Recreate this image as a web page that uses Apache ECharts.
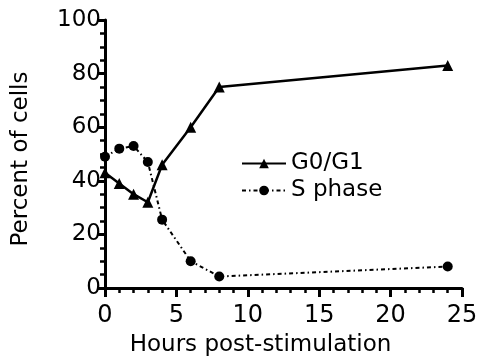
<!DOCTYPE html>
<html>
<head>
<meta charset="utf-8">
<script src="https://cdn.jsdelivr.net/npm/echarts@6/dist/echarts.min.js"></script>
<style>html,body{margin:0;padding:0;background:#fff;}#c{width:485px;height:358px;}</style>
</head>
<body>
<div id="c"></div>
<script>
var hours = [0, 1, 2, 3, 4, 6, 8, 24];
var g0g1 = [43, 39, 35, 32, 46, 60, 75, 83];
var sPhase = [49, 52, 53, 47, 25.5, 10, 4.3, 8];
var seriesNames = ['G0/G1', 'S phase'];
var xTitle = 'Hours post-stimulation';
var yTitle = 'Percent of cells';

function pairs(xs, ys) { return xs.map(function (x, i) { return [x, ys[i]]; }); }

var font = 'DejaVu Sans, Verdana, sans-serif';
var chart = echarts.init(document.getElementById('c'), null, {renderer: 'canvas'});
chart.setOption({
  animation: false,
  backgroundColor: '#fff',
  grid: {left: 105, right: 23, top: 20, bottom: 70, containLabel: false, outerBoundsMode: 'none'},
  legend: {
    orient: 'vertical', left: 241, top: 152, itemWidth: 44, itemHeight: 12, itemGap: 4, padding: 0,
    textStyle: {fontFamily: font, fontSize: 23, color: '#000'},
    data: seriesNames
  },
  xAxis: {
    type: 'value', min: 0, max: 25, interval: 5,
    name: xTitle, nameLocation: 'middle', nameGap: 46,
    nameTextStyle: {fontFamily: font, fontSize: 23, color: '#000', padding: [0, 46, 0, 0]},
    axisLine: {lineStyle: {color: '#000', width: 3}},
    axisTick: {length: 9, lineStyle: {color: '#000', width: 3}},
    minorTick: {show: true, splitNumber: 5, length: 5, lineStyle: {color: '#000', width: 2.5}},
    axisLabel: {margin: 16, fontFamily: font, fontSize: 24, color: '#000'},
    splitLine: {show: false}
  },
  yAxis: {
    type: 'value', min: 0, max: 100, interval: 20,
    name: yTitle, nameLocation: 'middle', nameGap: 72,
    nameTextStyle: {fontFamily: font, fontSize: 23, color: '#000', padding: [0, 10, 0, 0]},
    axisLine: {lineStyle: {color: '#000', width: 3}},
    axisTick: {length: 8, lineStyle: {color: '#000', width: 3}},
    minorTick: {show: true, splitNumber: 4, length: 5, lineStyle: {color: '#000', width: 2.5}},
    axisLabel: {margin: 4, fontFamily: font, fontSize: 23, color: '#000'},
    splitLine: {show: false}
  },
  series: [
    {
      name: seriesNames[0], type: 'line', data: pairs(hours, g0g1),
      symbol: 'triangle', symbolSize: 11, color: '#000',
      lineStyle: {color: '#000', width: 2.5}, itemStyle: {color: '#000'}
    },
    {
      name: seriesNames[1], type: 'line', data: pairs(hours, sPhase),
      symbol: 'circle', symbolSize: 10, color: '#000',
      lineStyle: {color: '#000', width: 2, type: [4, 3, 1.5, 3]}, itemStyle: {color: '#000'}
    }
  ]
});
</script>
</body>
</html>
